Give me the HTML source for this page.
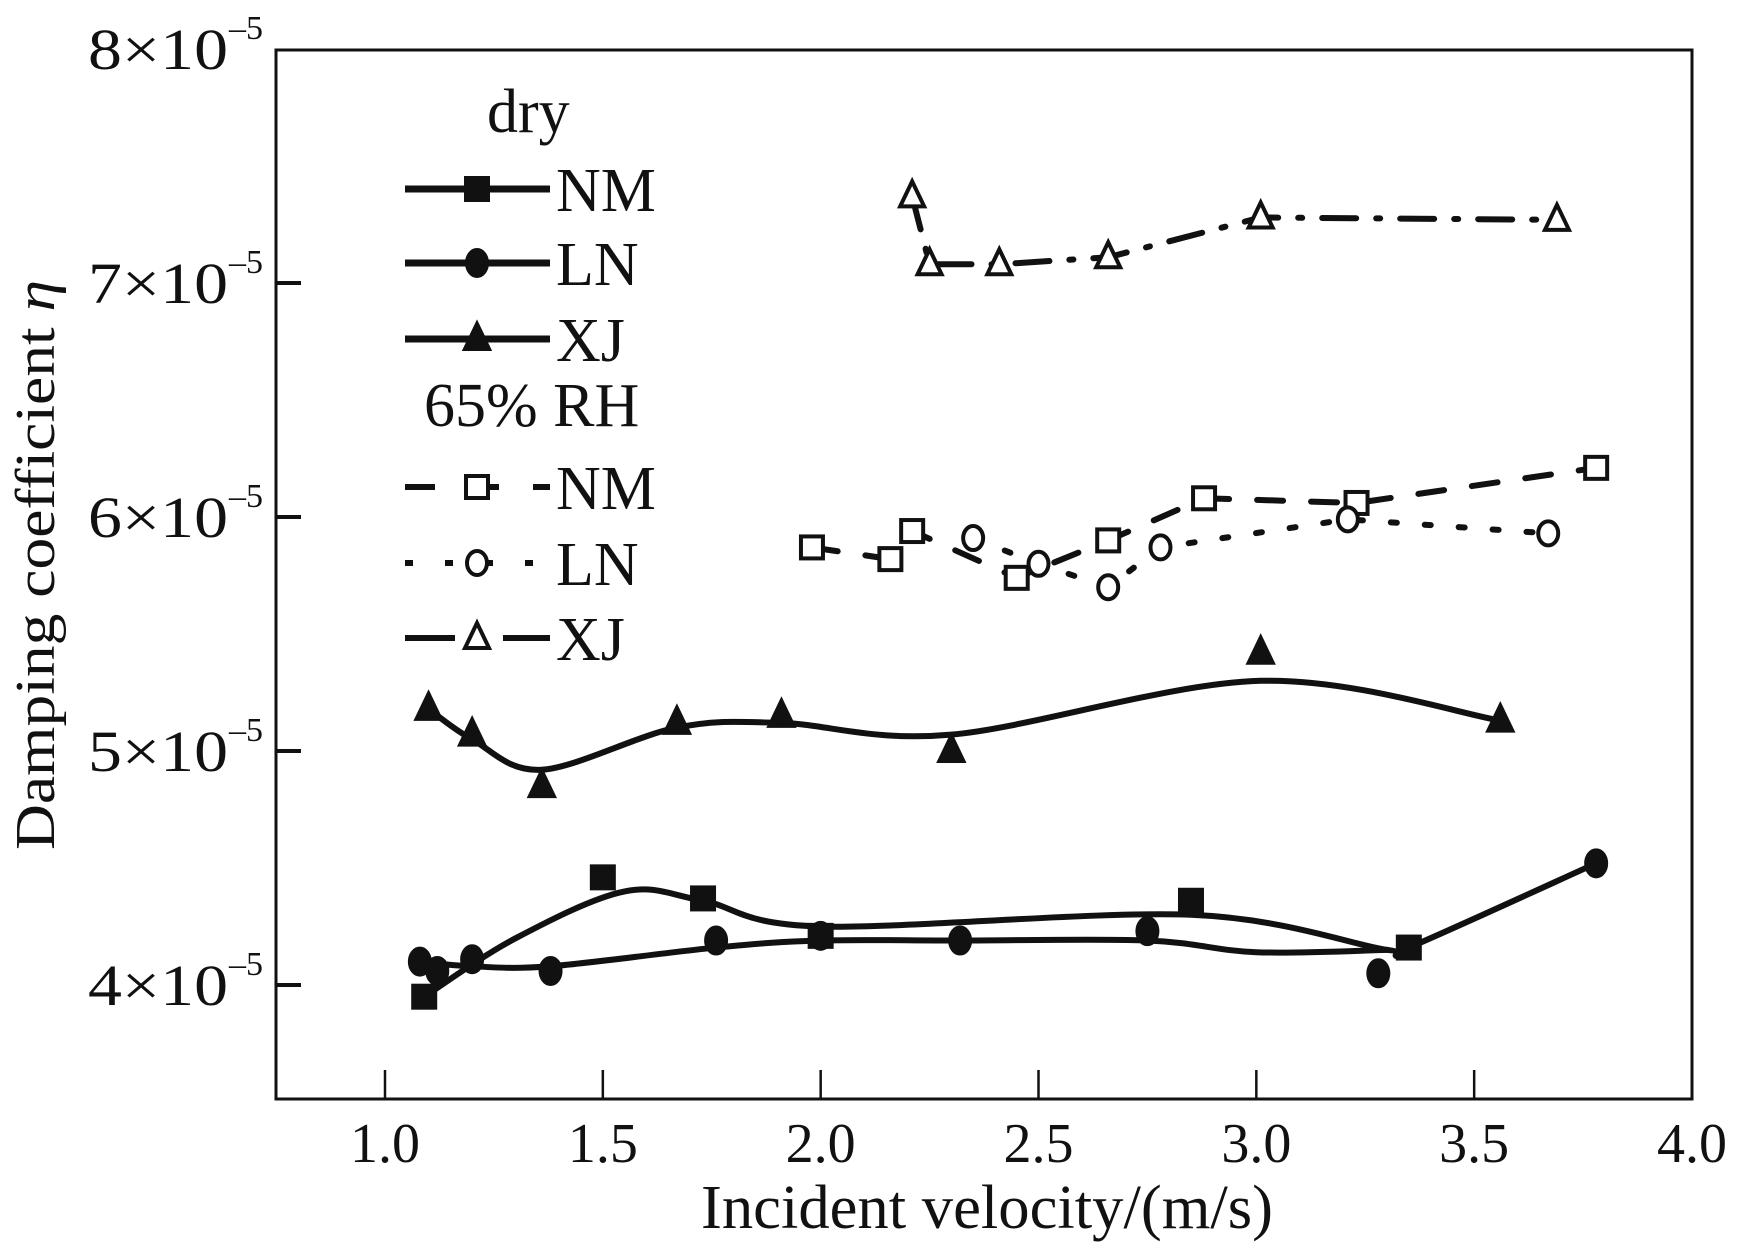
<!DOCTYPE html>
<html><head><meta charset="utf-8"><style>
html,body{margin:0;padding:0;background:#fff;}
svg{display:block;font-family:"Liberation Serif",serif;}
</style></head><body>
<svg id="chart" width="1750" height="1251" viewBox="0 0 1750 1251">
<g id="plot"></g>
</svg>
<script>
const xTicks=[1.0,1.5,2.0,2.5,3.0,3.5,4.0];
const xTickLabels=["1.0","1.5","2.0","2.5","3.0","3.5","4.0"];
const yTicks=[4,5,6,7,8];
const yTickLabels=["4","5","6","7","8"];
const dryNMx=[1.09,1.50,1.73,2.00,2.85,3.35];
const dryNMy=[3.95,4.46,4.37,4.21,4.36,4.16];
const dryNMcx=[1.09,1.30,1.55,1.73,2.00,2.85,3.30,3.35,3.78];
const dryNMcy=[3.95,4.20,4.40,4.36,4.25,4.30,4.15,4.16,4.52];
const dryLNx=[1.08,1.12,1.20,1.38,1.76,2.00,2.32,2.75,3.28,3.78];
const dryLNy=[4.10,4.06,4.11,4.06,4.19,4.21,4.19,4.23,4.05,4.52];
const dryLNcx=[1.08,1.20,1.38,1.76,2.00,2.32,2.75,3.00,3.30];
const dryLNcy=[4.10,4.08,4.08,4.16,4.19,4.19,4.19,4.14,4.15];
const dryXJx=[1.10,1.20,1.36,1.67,1.91,2.30,3.01,3.56];
const dryXJy=[5.18,5.07,4.85,5.12,5.15,5.00,5.42,5.13];
const dryXJcy=[5.18,5.05,4.92,5.10,5.12,5.07,5.30,5.13];
const wetXJx=[2.21,2.25,2.41,2.66,3.01,3.69];
const wetXJy=[7.37,7.08,7.08,7.11,7.28,7.27];
const wetNMx=[1.98,2.16,2.21,2.45,2.66,2.88,3.23,3.78];
const wetNMy=[5.87,5.82,5.94,5.74,5.90,6.08,6.06,6.21];
const wetLNx=[2.35,2.50,2.66,2.78,3.21,3.67];
const wetLNy=[5.91,5.80,5.70,5.87,5.99,5.93];

const L=276,R=1692,T=50,B=1099;
function sx(v){return 385+(v-1.0)*(1692-385)/3.0;}
function sy(v){return 985-(v-4)*234;}
const NS="http://www.w3.org/2000/svg";
const g=document.getElementById('plot');
function mk(tag,attrs,parent){const e=document.createElementNS(NS,tag);for(const k in attrs)e.setAttribute(k,attrs[k]);(parent||g).appendChild(e);return e;}

let fr=mk('rect',{x:L,y:T,width:R-L,height:B-T,fill:'none',stroke:'#111','stroke-width':3});



xTicks.forEach((v,i)=>{
  if(v<4){let t=mk('line',{x1:sx(v),x2:sx(v),y1:B,y2:B-29,stroke:'#111','stroke-width':2.5});
  
  }
  let tx=mk('text',{x:sx(v),y:1162,'font-size':56,'text-anchor':'middle',fill:'#111'});
  tx.textContent=xTickLabels[i];
  
  
});
yTicks.forEach((v,i)=>{
  if(v<8){let t=mk('line',{x1:L,x2:L+25,y1:sy(v),y2:sy(v),stroke:'#111','stroke-width':4});
  
  }
  let tx=mk('text',{x:88,y:sy(v)+20,'font-size':58,fill:'#111',textLength:140,lengthAdjust:'spacingAndGlyphs'});
  tx.textContent=yTickLabels[i]+"×10";
  
  
  let sp=mk('text',{x:229,y:sy(v)-10,'font-size':34,fill:'#111'});
  sp.textContent="–5";
  
  
});
let xt=mk('text',{x:987,y:1228,'font-size':62,'text-anchor':'middle',fill:'#111',textLength:572,lengthAdjust:'spacingAndGlyphs'});
xt.textContent="Incident velocity/(m/s)";


let yt=mk('text',{x:0,y:0,'font-size':56,'text-anchor':'middle',fill:'#111',transform:'translate(54,565) rotate(-90)',textLength:570,lengthAdjust:'spacingAndGlyphs'});
yt.innerHTML='Damping coefficient <tspan font-style="italic">η</tspan>';



function smooth(xs,ys){
  const p=xs.map((x,i)=>[sx(x),sy(ys[i])]);
  let d='M'+p[0][0]+','+p[0][1];
  for(let i=0;i<p.length-1;i++){
    const p0=p[i-1]||p[i],p1=p[i],p2=p[i+1],p3=p[i+2]||p2;
    const c1=[p1[0]+(p2[0]-p0[0])/6,p1[1]+(p2[1]-p0[1])/6];
    const c2=[p2[0]-(p3[0]-p1[0])/6,p2[1]-(p3[1]-p1[1])/6];
    d+=' C'+c1[0]+','+c1[1]+' '+c2[0]+','+c2[1]+' '+p2[0]+','+p2[1];
  }
  return d;
}
function poly(xs,ys){return 'M'+xs.map((x,i)=>sx(x)+','+sy(ys[i])).join(' L');}
function marker(type,cx,cy,filled,parent){
  const f=filled?'#111':'#fff',s=11;
  let e;
  if(type==='sq') e=mk('rect',{x:cx-s,y:cy-s,width:2*s,height:2*s,fill:f,stroke:'#111','stroke-width':4},parent);
  else if(type==='ci') e=mk('ellipse',{cx:cx,cy:cy,rx:10,ry:filled?13:12,fill:f,stroke:'#111','stroke-width':4},parent);
  else e=mk('polygon',{points:(cx)+','+(cy-15)+' '+(cx-12)+','+(cy+10)+' '+(cx+12)+','+(cy+10),fill:f,stroke:'#111','stroke-width':4},parent);
  return e;
}
function series(name,lx,ly,px,py,type,filled,dash,curve){
  const grp=mk('g',{});
  
  
  const ln=mk('path',{d:curve?smooth(lx,ly):poly(lx,ly),fill:'none',stroke:'#111','stroke-width':filled?6:6,'stroke-dasharray':dash||'none','stroke-linecap':'round'},grp);
  
  
  px.forEach((x,i)=>{
    const m=marker(type,sx(x),sy(py[i]),filled,grp);
    
    
  });
}
series('dry-nm-series',dryNMcx,dryNMcy,dryNMx,dryNMy,'sq',true,null,true);
series('dry-ln-series',dryLNcx,dryLNcy,dryLNx,dryLNy,'ci',true,null,true);
series('dry-xj-series',dryXJx,dryXJcy,dryXJx,dryXJy,'tr',true,null,true);
series('wet-xj-series',wetXJx,wetXJy,wetXJx,wetXJy,'tr',false,'34,20,4,20',false);
series('wet-nm-series',wetNMx,wetNMy,wetNMx,wetNMy,'sq',false,'26,28',false);
series('wet-ln-series',wetLNx,wetLNy,wetLNx,wetLNy,'ci',false,'6,28',false);

const lg=mk('g',{});


function ltext(txt,x,y,name){const t=mk('text',{x:x,y:y,'font-size':62,fill:'#111'},lg);t.textContent=txt;
  
  }
ltext('dry',487,132,'legend-dry-heading');
ltext('65% RH',424,426,'legend-rh-heading');
const entries=[['NM',189,'sq',true,null],['LN',263,'ci',true,null],['XJ',339,'tr',true,null],['NM',487,'sq',false,'30,34'],['LN',563,'ci',false,'8,32'],['XJ',638,'tr',false,'50,48']];
entries.forEach((e,i)=>{
  const l=mk('line',{x1:405,x2:550,y1:e[1],y2:e[1],stroke:'#111','stroke-width':e[3]?7:6,'stroke-dasharray':e[4]||'none'},lg);
  
  
  const m=marker(e[2],477,e[1],e[3],lg);
  
  
  ltext(e[0],556,e[1]+22,'legend-entry-label');
});
</script>
</body></html>
